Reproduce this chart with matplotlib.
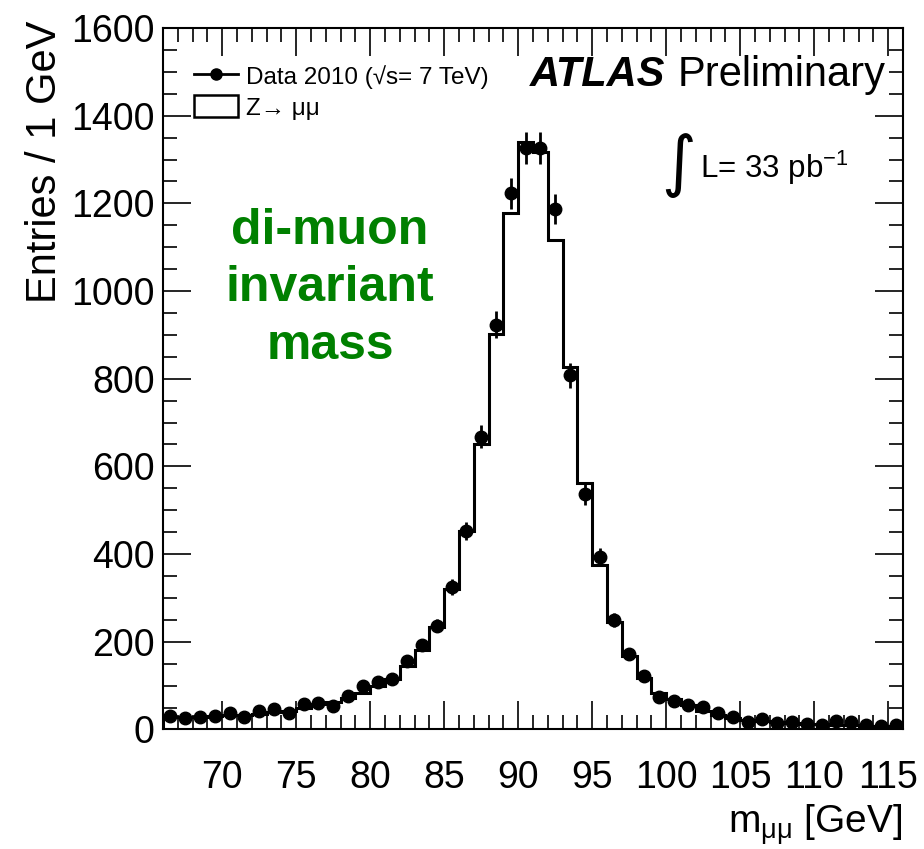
import numpy as np
import matplotlib
matplotlib.use("Agg")
import matplotlib.pyplot as plt
from matplotlib.lines import Line2D
from matplotlib.patches import Patch
from matplotlib.ticker import MultipleLocator

plt.rcParams['font.family'] = ['Liberation Sans', 'DejaVu Sans']
plt.rcParams['mathtext.fontset'] = 'custom'
plt.rcParams['mathtext.rm'] = 'Liberation Sans'
plt.rcParams['mathtext.it'] = 'Liberation Sans:italic'

# bin edges 66..116 GeV, 1 GeV bins
bin_edges = np.arange(66, 117, 1)
bin_centers = bin_edges[:-1] + 0.5

# Z -> mumu simulation (histogram)
mc_counts = [28, 28, 29, 30, 32, 34, 36, 39, 43, 49,
             58, 63, 72, 83, 98, 115, 145, 181, 234, 320,
             453, 651, 901, 1178, 1339, 1317, 1117, 827, 563, 375,
             244, 168, 118, 84, 69, 55, 43, 33, 27, 22,
             19, 17, 15, 13, 12, 11, 10, 9, 8, 8]

# data 2010
data_counts = [31, 27, 28, 31, 38, 29, 41, 46, 38, 57,
               60, 54, 77, 99, 109, 116, 157, 192, 237, 325,
               453, 668, 923, 1223, 1326, 1327, 1188, 808, 536, 394,
               250, 173, 123, 73, 65, 55, 52, 38, 28, 17,
               25, 14, 18, 13, 11, 19, 17, 11, 8, 11]

data_err = np.sqrt(data_counts)

fig = plt.figure(figsize=(9.24, 8.49), dpi=100)
ax = fig.add_axes([0.1764, 0.1408, 0.8009, 0.8262])

ax.stairs(mc_counts, bin_edges, color='black', lw=2.2)
ax.errorbar(bin_centers, data_counts, yerr=data_err, fmt='o', color='black',
            ms=9, elinewidth=2, capsize=0, zorder=3)

ax.set_xlim(66, 116)
ax.set_ylim(0, 1600)
ax.xaxis.set_major_locator(MultipleLocator(5))
ax.xaxis.set_minor_locator(MultipleLocator(1))
ax.yaxis.set_major_locator(MultipleLocator(200))
ax.yaxis.set_minor_locator(MultipleLocator(50))
ax.set_xticks(np.arange(70, 116, 5))
ax.tick_params(which='both', direction='in', top=True, right=True, width=1.2)
ax.tick_params(which='major', length=20)
ax.tick_params(which='minor', length=10)
ax.tick_params(axis='x', which='major', labelsize=27, pad=22)
ax.tick_params(axis='y', which='major', labelsize=27, pad=6)
for s in ax.spines.values():
    s.set_linewidth(1.5)

ax.text(-0.159, 1.011, 'Entries / 1 GeV', transform=ax.transAxes,
        rotation=90, ha='center', va='top', fontsize=30)
ax.text(1.0, -0.136, r'm$_{\mathrm{μμ}}$ [GeV]', transform=ax.transAxes,
        ha='right', va='center', fontsize=28)

handles = [Line2D([], [], color='black', marker='o', ms=8, lw=2),
           Patch(facecolor='white', edgecolor='black', lw=1.8)]
ax.legend(handles, ['Data 2010 (√s= 7 TeV)', 'Z→ μμ'], loc='upper left',
          bbox_to_anchor=(0.029, 0.962), frameon=False, fontsize=17.5,
          handlelength=1.8, handleheight=1.0, handletextpad=0.33, labelspacing=0.28,
          borderaxespad=0)

ax.text(0.496, 0.933, 'ATLAS', transform=ax.transAxes, fontsize=30,
        fontweight='bold', fontstyle='italic', ha='left', va='center')
ax.text(0.695, 0.933, 'Preliminary', transform=ax.transAxes, fontsize=30,
        ha='left', va='center')
ax.text(0.697, 0.805, '∫', transform=ax.transAxes, fontsize=48,
        family='DejaVu Sans', ha='center', va='center')
ax.text(0.726, 0.80, r'L= 33 pb$^{\mathrm{-1}}$', transform=ax.transAxes,
        fontsize=22.5, ha='left', va='center')

ax.text(0.2257, 0.629, 'di-muon\ninvariant\nmass', transform=ax.transAxes,
        fontsize=36, fontweight='bold', color='#008000', ha='center',
        va='center', multialignment='center', linespacing=1.32)

fig.savefig('out.png', dpi=100)
